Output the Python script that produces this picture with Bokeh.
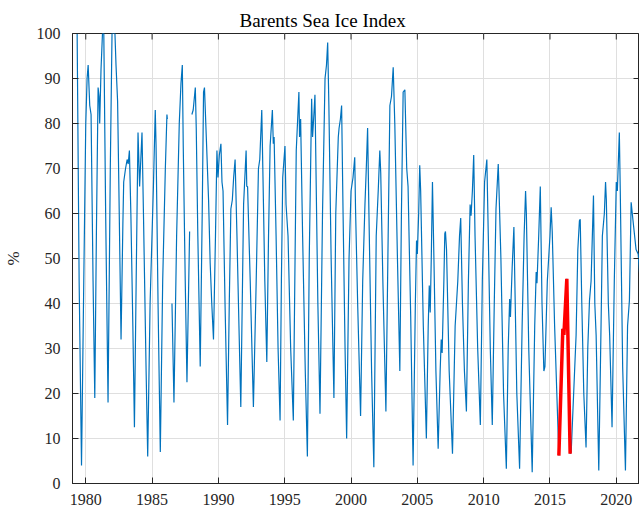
import math
from bokeh.plotting import figure
from bokeh.models import Range1d, FixedTicker, LinearAxis, Title
from bokeh.embed import file_html
from bokeh.resources import INLINE

NaN = float("nan")

# ---- data (decimal year, % ice cover) ----
years = [
    1979.00, 1979.35, 1979.50, 1979.68,
    1979.85, 1980.00, 1980.10, 1980.18, 1980.30, 1980.40, 1980.55, 1980.68,
    1980.80, 1980.93, 1981.00, 1981.05, 1981.15, 1981.26, 1981.36, 1981.50, 1981.68,
    1981.85, 1981.98, 1982.20, 1982.28, 1982.40, 1982.50, 1982.66,
    1982.80, 1982.86, 1983.00, 1983.12, 1983.20, 1983.29, 1983.40, 1983.55, 1983.67,
    1983.80, 1983.94, 1984.06, 1984.15, 1984.24, 1984.35, 1984.55, 1984.67,
    1984.85, 1985.10, 1985.24, 1985.30, 1985.45, 1985.62,
    1985.80, 1986.00, 1986.12, 1986.15, 1986.30, 1986.50, 1986.65,
    1986.85, 1987.05, 1987.18, 1987.28, 1987.35, 1987.50, 1987.63,
    1987.83, 1987.90, 1988.00, 1988.10, 1988.26, 1988.33, 1988.45, 1988.63,
    1988.78, 1988.88, 1988.95, 1989.10, 1989.26, 1989.38, 1989.50, 1989.63,
    1989.78, 1989.89, 1989.97, 1990.07, 1990.19, 1990.27, 1990.35, 1990.50, 1990.69,
    1990.82, 1990.94, 1991.05, 1991.15, 1991.26, 1991.40, 1991.55, 1991.69,
    1991.82, 1991.90, 1992.09, 1992.14, 1992.20, 1992.40, 1992.64,
    1992.85, 1993.02, 1993.12, 1993.27, 1993.35, 1993.50, 1993.65,
    1993.78, 1993.90, 1994.07, 1994.14, 1994.20, 1994.35, 1994.50, 1994.65,
    1994.75, 1994.85, 1995.02, 1995.10, 1995.25, 1995.45, 1995.65,
    1995.78, 1995.87, 1996.07, 1996.12, 1996.20, 1996.35, 1996.55, 1996.71,
    1996.85, 1997.03, 1997.10, 1997.20, 1997.28, 1997.38, 1997.50, 1997.66,
    1997.85, 1998.04, 1998.15, 1998.24, 1998.33, 1998.50, 1998.71,
    1998.85, 1999.04, 1999.10, 1999.20, 1999.29, 1999.40, 1999.55, 1999.67,
    1999.85, 2000.00, 2000.15, 2000.28, 2000.34, 2000.50, 2000.72,
    2000.88, 2001.05, 2001.15, 2001.25, 2001.35, 2001.55, 2001.72,
    2001.90, 2002.05, 2002.17, 2002.24, 2002.40, 2002.63,
    2002.80, 2002.93, 2003.05, 2003.18, 2003.30, 2003.50, 2003.68,
    2003.80, 2003.93, 2004.06, 2004.20, 2004.30, 2004.50, 2004.68,
    2004.85, 2004.94, 2005.00, 2005.10, 2005.18, 2005.25, 2005.45, 2005.68,
    2005.82, 2005.90, 2005.97, 2006.05, 2006.14, 2006.25, 2006.40, 2006.57,
    2006.72, 2006.80, 2006.87, 2007.00, 2007.07, 2007.12, 2007.20, 2007.40, 2007.65,
    2007.85, 2008.05, 2008.18, 2008.27, 2008.40, 2008.55, 2008.70,
    2008.85, 2008.98, 2009.05, 2009.15, 2009.25, 2009.35, 2009.55, 2009.75,
    2009.90, 2010.07, 2010.24, 2010.35, 2010.50, 2010.65,
    2010.80, 2010.93, 2011.10, 2011.15, 2011.30, 2011.50, 2011.71,
    2011.85, 2011.96, 2012.02, 2012.15, 2012.28, 2012.35, 2012.50, 2012.71,
    2012.90, 2013.05, 2013.16, 2013.22, 2013.40, 2013.66,
    2013.85, 2013.96, 2014.02, 2014.15, 2014.27, 2014.40, 2014.54, 2014.62,
    2014.80, 2015.00, 2015.09, 2015.17, 2015.35, 2015.67,
    2015.97, 2016.05, 2016.27, 2016.52,
    2016.60, 2016.97, 2017.10, 2017.22, 2017.28, 2017.40, 2017.55, 2017.72,
    2017.85, 2017.98, 2018.10, 2018.28, 2018.38, 2018.48, 2018.68,
    2018.85, 2018.95, 2019.10, 2019.19, 2019.25, 2019.40, 2019.50, 2019.68,
    2019.85, 2020.00, 2020.08, 2020.23, 2020.30, 2020.48, 2020.69,
    2020.85, 2020.99, 2021.12, 2021.24, 2021.49, 2021.65, 2021.80,
]
ice_pct = [
    100, 100, 45, 4,
    45, 80, 90, 93, 84, 82, 45, 19,
    55, 88, 86, 80, 92, 100, 100, 60, 18,
    70, 100, 100, 93, 85, 65, 32,
    58, 67, 70, 72, 71, 74, 60, 35, 12.5,
    45, 78, 66, 72, 78, 60, 25, 6,
    40, 66, 83, 75, 40, 7,
    45, 70, 82, 81, NaN, 40, 18,
    55, 80, 89, 93, 75, 45, 22.5,
    56, NaN, 82, 83, 88, 79, 55, 26,
    60, 87, 88, 76, 63, 49, 40, 32,
    55, 74, 68, 73, 75.5, 67, 65, 40, 13,
    40, 61, 63, 68, 72, 55, 35, 17,
    45, 62, 74, 66, 66, 45, 17,
    45, 70, 72, 83, 70, 45, 27,
    55, 75, 83, 75.5, 77, 55, 30, 14,
    45, 68, 75, 62, 55, 30, 14,
    50, 74, 87, 77, 81, 55, 25, 6,
    50, 85.5, 77, 82, 86.4, 65, 40, 15.5,
    60, 90, 93, 98, 84, 50, 19,
    60, 77, 79, 81, 84, 60, 30, 10,
    50, 65, 68, 72.5, 61, 40, 15,
    45, 62, 70, 79, 60, 25, 3.6,
    55, 65, 74, 69, 45, 16,
    55, 84, 86, 92.5, 80, 50, 25,
    60, 87, 87.5, 70, 66, 37, 4,
    40, 54, 51, 60, 70.7, 65, 35, 10,
    35, 44, 38, 50, 67, 50, 25, 7.7,
    25, 32, 29, 45, 55.5, 56, 52, 25, 6.6,
    35, 45, 55, 59, 40, 25, 16,
    45, 62, 59.5, 65, 73, 55, 30, 13,
    45, 67, 72, 55, 30, 13,
    40, 61, 71, 66, 50, 20, 3.3,
    30, 41, 37, 48, 57, 45, 20, 3.3,
    35, 55, 65, 60, 30, 2.5,
    35, 47, 44.5, 55, 66, 40, 25, 26,
    45, 55, 61.4, 56, 35, 6.2,
    34.4, 33, 45.5, 6.6,
    7, 33, 52, 58.4, 58.7, 40, 20, 8,
    30, 40.7, 45, 64, 40, 33, 2.9,
    35, 55, 60, 67, 63, 40, 33, 12.5,
    45, 67, 65, 78, 65, 26, 2.9,
    35, 40.7, 62.5, 59, 52, 51, 45,
]

# highlighted 2015/16 season
years_2016 = [2015.67, 2015.97, 2016.05, 2016.27, 2016.52]
ice_2016 = [6.2, 34.4, 33, 45.5, 6.6]

x_ticks = [1980, 1985, 1990, 1995, 2000, 2005, 2010, 2015, 2020]
y_ticks = [0, 10, 20, 30, 40, 50, 60, 70, 80, 90, 100]
x_min, x_max = 1979.0, 2021.75
y_min, y_max = 0, 100

SERIF = "Liberation Serif"
AX = "#262626"

p = figure(width=639, height=512, output_backend="svg", toolbar_location=None,
           x_range=Range1d(x_min, x_max), y_range=Range1d(y_min, y_max),
           min_border_left=72, min_border_right=0, min_border_top=33,
           min_border_bottom=29, x_axis_location=None, y_axis_location=None)

p.title = Title(text="Barents Sea Ice Index", align="left", offset=167,
                text_font=SERIF, text_font_size="19px", text_font_style="normal",
                text_color="#000000", standoff=6)
p.outline_line_color = AX
p.outline_line_width = 1
p.background_fill_color = "white"
p.border_fill_color = "white"

def make_axis(ticks):
    ax = LinearAxis(ticker=FixedTicker(ticks=ticks))
    ax.axis_line_color = AX
    ax.major_tick_line_color = AX
    ax.major_tick_in = 6
    ax.major_tick_out = 0
    ax.minor_tick_line_color = None
    ax.major_label_text_font = SERIF
    ax.major_label_text_font_size = "16px"
    ax.major_label_text_color = "#262626"
    return ax

xb = make_axis(x_ticks)
xb.major_label_standoff = 10
p.add_layout(xb, "below")
yl = make_axis(y_ticks)
yl.major_label_standoff = 12
yl.axis_label = "%"
yl.axis_label_text_font = SERIF
yl.axis_label_text_font_size = "17px"
yl.axis_label_text_font_style = "normal"
yl.axis_label_text_color = "#262626"
yl.axis_label_standoff = 11
p.add_layout(yl, "left")

p.xgrid.ticker = FixedTicker(ticks=x_ticks)
p.ygrid.ticker = FixedTicker(ticks=y_ticks)
for g in (p.xgrid, p.ygrid):
    g.grid_line_color = "#dfdfdf"
    g.grid_line_width = 1

p.line(years, ice_pct, line_color="#0072bd", line_width=1.2)
p.line(years_2016, ice_2016, line_color="#ff0000", line_width=3.5)

# inward tick marks on the top and right frame edges (half of each dash is clipped)
p.scatter(x=x_ticks, y=[y_max] * len(x_ticks), marker="dash", size=12,
          angle=math.pi / 2, line_color=AX, line_width=1)
p.scatter(x=[x_max] * len(y_ticks), y=y_ticks, marker="dash", size=12,
          line_color=AX, line_width=1)

open("out.html", "w").write(file_html(p, INLINE))
